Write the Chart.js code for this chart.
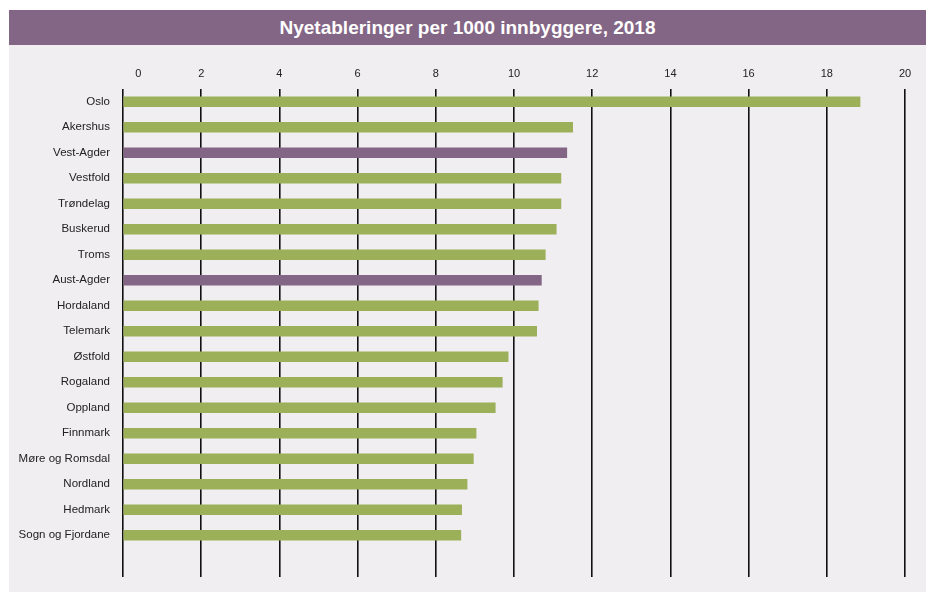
<!DOCTYPE html>
<html>
<head>
<meta charset="utf-8">
<script src="https://cdn.jsdelivr.net/npm/chart.js@4"></script>
<style>
  html, body { margin: 0; padding: 0; background: #ffffff; }
  #tittel {
    position: absolute; left: 9px; top: 10px; width: 917px; height: 35px;
    background: #836585; color: #ffffff;
    font: bold 19px "Liberation Sans", Arial, sans-serif;
    line-height: 35px; text-align: center;
  }
  #panel {
    position: absolute; left: 9px; top: 45px; width: 917px; height: 547px;
    background: #f0eef1; overflow: hidden;
  }
  #graf { display: block; }
</style>
</head>
<body>
<div id="tittel">Nyetableringer per 1000 innbyggere, 2018</div>
<div id="panel"><canvas id="graf" width="917" height="552"></canvas></div>
<script>
const fylker = ['Oslo', 'Akershus', 'Vest-Agder', 'Vestfold', 'Trøndelag', 'Buskerud', 'Troms',
  'Aust-Agder', 'Hordaland', 'Telemark', 'Østfold', 'Rogaland', 'Oppland', 'Finnmark',
  'Møre og Romsdal', 'Nordland', 'Hedmark', 'Sogn og Fjordane'];
const verdier = [18.85, 11.5, 11.35, 11.2, 11.2, 11.08, 10.8, 10.7, 10.62, 10.58,
  9.85, 9.7, 9.52, 9.03, 8.96, 8.8, 8.66, 8.64];
const uthevet = ['Vest-Agder', 'Aust-Agder'];
const xTicks = [0, 2, 4, 6, 8, 10, 12, 14, 16, 18, 20];

const gronn = '#9caf59';
const lilla = '#836585';

const punkter = verdier.map((v, i) => ({ x: v, y: i }));
const farger = fylker.map(f => uthevet.includes(f) ? lilla : gronn);

const ctx = document.getElementById('graf').getContext('2d');

new Chart(ctx, {
  type: 'bar',
  data: {
    datasets: [{
      data: punkter,
      backgroundColor: farger,
      borderWidth: 0,
      barThickness: 10
    }]
  },
  options: {
    indexAxis: 'y',
    responsive: false,
    animation: false,
    layout: { padding: { left: 0, top: 0, right: 21, bottom: 0 } },
    plugins: {
      legend: { display: false },
      tooltip: { enabled: false }
    },
    scales: {
      x: {
        position: 'top',
        min: 0,
        max: 20,
        afterBuildTicks: s => { s.ticks = xTicks.map(v => ({ value: v })); },
        afterFit: s => { s.height = 44; },
        grid: { color: '#111111', lineWidth: 1.6, drawTicks: false },
        border: { display: false },
        ticks: {
          padding: 8,
          color: '#222222',
          font: { family: '"Liberation Sans", Arial, sans-serif', size: 11 },
          // nullen står litt til høyre for linja i originalen
          callback: v => v === 0 ? '          0' : String(v)
        }
      },
      y: {
        type: 'linear',
        reverse: true,
        offset: false,
        bounds: 'data',
        afterDataLimits: s => { s.min = -0.5; s.max = 18.64; },
        afterBuildTicks: s => { s.ticks = fylker.map((f, i) => ({ value: i })); },
        afterFit: s => { s.width = 114; },
        grid: { display: false, drawTicks: false, offset: false },
        border: { display: false },
        ticks: {
          padding: 13,
          color: '#222222',
          font: { family: '"Liberation Sans", Arial, sans-serif', size: 11.5 },
          callback: v => fylker[v] !== undefined ? fylker[v] : ''
        }
      }
    }
  }
});
</script>
</body>
</html>
